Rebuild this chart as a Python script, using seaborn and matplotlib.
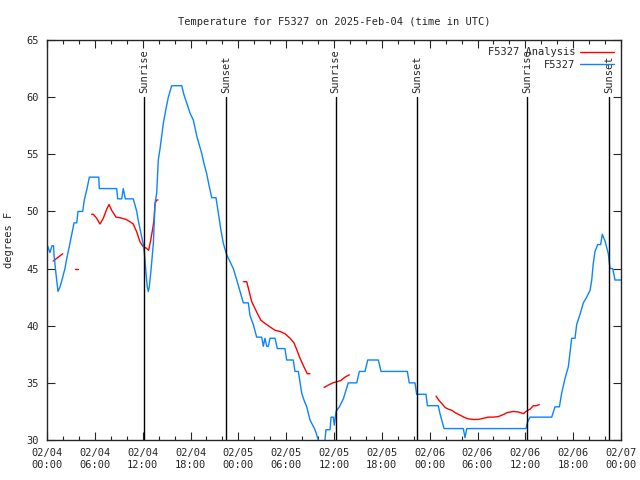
import matplotlib
matplotlib.use("Agg")
import matplotlib.pyplot as plt
import matplotlib.dates as mdates
from matplotlib.lines import Line2D
import seaborn as sns
import numpy as np
import pandas as pd

# observed station temperature (hours since 2025-02-04 00:00 UTC, deg F)
obs_hours = [0.0, 0.37, 0.63, 0.82, 0.88, 1.13, 1.38, 1.63, 1.88, 2.25, 2.51, 2.82,
             3.10, 3.39, 3.73, 3.89, 4.48, 4.68, 5.02, 5.31, 6.49, 6.56, 8.74, 8.87,
             9.37, 9.57, 9.82, 10.82, 11.26, 11.42, 11.66, 12.08, 12.21, 12.42, 12.58,
             12.71, 12.83, 13.05, 13.34, 13.55, 13.76, 13.96, 14.18, 14.59, 14.93,
             15.22, 15.64, 16.90, 17.18, 17.52, 17.94, 18.35, 18.82, 19.40, 19.69,
             20.03, 20.32, 20.66, 21.20, 21.61, 21.83, 22.12, 22.54, 22.96, 23.37,
             23.80, 24.21, 24.63, 25.25, 25.46, 25.88, 26.30, 26.93, 27.13, 27.34,
             27.56, 27.76, 27.97, 28.60, 28.89, 29.85, 30.06, 30.89, 31.10, 31.53,
             31.95, 32.23, 32.58, 32.99, 33.62, 34.03, 34.36, 34.62, 34.87, 34.99,
             35.50, 35.63, 35.91, 36.03, 36.26, 36.67, 37.17, 37.79, 38.85, 39.18,
             39.89, 40.23, 41.56, 41.90, 45.20, 45.44, 46.16, 46.37, 47.54, 47.71,
             49.08, 49.30, 49.80, 52.22, 52.43, 52.65, 60.08, 60.30, 60.59, 63.31,
             63.72, 64.27, 64.56, 64.98, 65.39, 65.60, 65.81, 66.23, 66.44, 66.86,
             67.28, 67.69, 68.12, 68.33, 68.53, 68.74, 69.08, 69.45, 69.65, 70.00,
             70.41, 70.62, 70.96, 71.25, 72.0]
obs_temp = [47.1, 46.4, 47.0, 47.0, 46.2, 44.5, 43.0, 43.4, 44.0, 45.0, 46.0, 47.0,
            48.0, 49.0, 49.0, 50.0, 50.0, 51.0, 52.0, 53.0, 53.0, 52.0, 52.0, 51.1,
            51.1, 52.0, 51.1, 51.1, 50.0, 49.3, 48.5, 47.1, 46.4, 44.6, 43.4,
            43.0, 43.4, 44.9, 47.2, 50.7, 51.6, 54.5, 55.5, 57.7, 59.0,
            60.0, 61.0, 61.0, 60.2, 59.5, 58.6, 58.0, 56.5, 55.1, 54.2,
            53.3, 52.3, 51.2, 51.2, 49.3, 48.3, 47.2, 46.2, 45.6, 45.0,
            44.0, 43.0, 42.0, 42.0, 40.9, 40.1, 39.0, 39.0, 38.2, 38.9,
            38.2, 38.2, 38.9, 38.9, 38.0, 38.0, 37.0, 37.0, 36.0, 36.0,
            34.1, 33.5, 32.9, 31.75, 30.9, 30.0, 29.3, 29.3, 30.0, 30.9,
            30.9, 32.0, 32.0, 31.3, 32.5, 32.9, 33.6, 35.0, 35.0, 36.0,
            36.0, 37.0, 37.0, 36.0, 36.0, 35.0, 35.0, 34.0, 34.0, 33.0,
            33.0, 32.3, 31.0, 31.0, 30.2, 31.0, 31.0, 31.6, 32.0, 32.0,
            32.9, 32.9, 34.1, 35.4, 36.4, 37.6, 38.9, 38.9, 40.1, 41.0,
            42.0, 42.5, 43.1, 44.0, 45.5, 46.5, 47.1, 47.1, 48.0, 47.4,
            46.3, 45.0, 45.0, 44.0, 44.0]

# analysis temperature, broken into separate pieces
ana_seg = [1] * 2 + [2] * 2 + [3] * 24 + [4] * 18 + [5] * 7 + [6] * 27
ana_hours = [0.79, 1.97,
             3.52, 3.89,
             5.61, 5.81, 6.23, 6.65, 7.06, 7.49, 7.78, 8.11, 8.66, 9.16, 9.91, 10.41,
             10.82, 11.26, 11.66, 12.08, 12.42, 12.75, 13.01, 13.26, 13.42, 13.55,
             13.76, 13.92,
             24.63, 25.05, 25.25, 25.68, 26.30, 26.81, 27.34, 27.97, 28.60, 29.22,
             29.85, 30.49, 30.98, 31.33, 31.74, 32.23, 32.65, 32.99,
             34.75, 35.29, 35.84, 36.34, 36.84, 37.38, 37.92,
             48.80, 49.08, 49.51, 49.93, 50.34, 50.77, 51.18, 51.60, 52.02, 52.43,
             52.85, 53.48, 54.10, 54.73, 55.36, 55.98, 56.61, 57.16, 57.74, 58.50,
             59.13, 59.75, 60.08, 60.59, 61.00, 61.35, 61.75]
ana_temp = [45.66, 46.3,
            45.0, 45.0,
            49.75, 49.75, 49.4, 48.9, 49.4, 50.2, 50.6, 50.1, 49.5, 49.45, 49.3, 49.1,
            48.9, 48.2, 47.35, 46.9, 46.8, 46.6, 47.5, 48.5, 49.25, 50.7,
            51.0, 51.0,
            43.85, 43.85, 43.3, 42.1, 41.2, 40.5, 40.2, 39.9, 39.6, 39.5,
            39.3, 38.9, 38.5, 37.9, 37.15, 36.4, 35.8, 35.8,
            34.6, 34.8, 35.0, 35.1, 35.2, 35.5, 35.7,
            33.85, 33.55, 33.2, 32.85, 32.7, 32.6, 32.4, 32.25, 32.1, 31.95,
            31.85, 31.8, 31.8, 31.9, 32.0, 32.0, 32.05, 32.2, 32.4, 32.5,
            32.45, 32.3, 32.5, 32.7, 33.0, 33.0, 33.1]

sun_times = ["2025-02-04 12:13", "2025-02-04 22:27", "2025-02-05 12:12",
             "2025-02-05 22:28", "2025-02-06 12:11", "2025-02-06 22:31"]
sun_labels = ["Sunrise", "Sunset", "Sunrise", "Sunset", "Sunrise", "Sunset"]

start = pd.Timestamp("2025-02-04 00:00")
obs = pd.DataFrame({"time": start + pd.to_timedelta(obs_hours, unit="h"),
                    "temp": obs_temp})
ana = pd.DataFrame({"time": start + pd.to_timedelta(ana_hours, unit="h"),
                    "temp": ana_temp, "seg": ana_seg})

red = "#ff0000"
blue = "#0a84ff"

sns.set_style("ticks")
plt.rcParams["font.family"] = ["DejaVu Sans Mono"]
plt.rcParams["font.size"] = 7.5

fig = plt.figure(figsize=(6.4, 4.8), dpi=100)
ax = fig.add_axes([47 / 640, 40 / 480, 574 / 640, 400 / 480])

sns.lineplot(data=ana, x="time", y="temp", units="seg", estimator=None,
             color=red, lw=1.0, ax=ax, legend=False)
sns.lineplot(data=obs, x="time", y="temp", color=blue, lw=1.0,
             ax=ax, legend=False)

for t, lab in zip(sun_times, sun_labels):
    ts = pd.Timestamp(t)
    ax.plot([ts, ts], [30, 60], color="black", lw=1.0)
    ax.text(ts, 60.4, lab, rotation=90, ha="center", va="bottom", fontsize=7.5)

ax.set_xlim(start, start + pd.Timedelta(hours=72))
ax.set_ylim(30, 65)
ax.set_yticks(np.arange(30, 66, 5))
ax.xaxis.set_major_locator(mdates.HourLocator(byhour=[0, 6, 12, 18]))
ax.xaxis.set_minor_locator(mdates.HourLocator(interval=2))
ax.xaxis.set_major_formatter(mdates.DateFormatter("%m/%d\n%H:%M"))
ax.tick_params(which="both", direction="in", top=True, right=True,
               labelsize=7.5, width=0.8)
ax.tick_params(which="major", length=6, pad=6)
ax.tick_params(which="minor", length=3)
for sp in ax.spines.values():
    sp.set_linewidth(1.0)
    sp.set_visible(True)

ax.set_xlabel("")
ax.set_ylabel("degrees F", fontsize=7.5, labelpad=9)
ax.set_title("Temperature for F5327 on 2025-Feb-04 (time in UTC)",
             fontsize=7.5, pad=11)

handles = [Line2D([], [], color=red, lw=1.0), Line2D([], [], color=blue, lw=1.0)]
ax.legend(handles, ["F5327 Analysis", "F5327"], loc="upper right",
          frameon=False, markerfirst=False, fontsize=7.5,
          handlelength=3.2, handletextpad=0.5, borderaxespad=0.3,
          labelspacing=0.25)

fig.savefig("out.png", dpi=100)
